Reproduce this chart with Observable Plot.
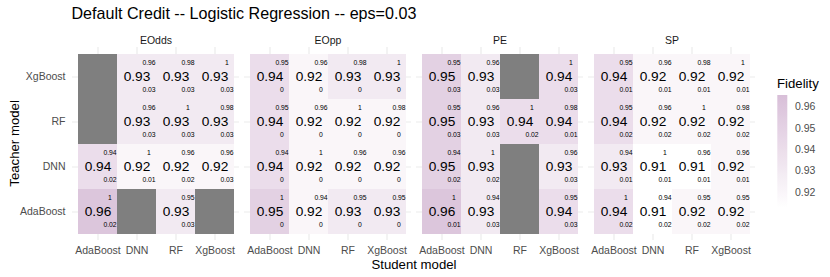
<!DOCTYPE html>
<html><head><meta charset="utf-8">
<script src="https://cdn.jsdelivr.net/npm/d3@7"></script>
<script src="https://cdn.jsdelivr.net/npm/@observablehq/plot@0.6"></script>
<style>
body{margin:0;background:#fff;}
#wrap{position:relative;width:830px;height:277px;font-family:"Liberation Sans",Arial,sans-serif;}
#wrap svg{position:absolute;left:0;top:0;}
</style></head><body><div id="wrap"></div>
<script>
const titleText = "Default Credit -- Logistic Regression -- eps=0.03";
const metrics = ["EOdds", "EOpp", "PE", "SP"];
const students = ["AdaBoost", "DNN", "RF", "XgBoost"];
const teachers = ["XgBoost", "RF", "DNN", "AdaBoost"]; // top to bottom
const legendTicks = [0.92, 0.93, 0.94, 0.95, 0.96];
const colorDomain = [0.9125, 0.9655];

// rows: teachers (top to bottom), columns: students
const fidelity = {
  EOdds: [[null, .93, .93, .93], [null, .93, .93, .93], [.94, .92, .92, .92], [.96, null, .93, null]],
  EOpp:  [[.94, .92, .93, .93], [.94, .92, .92, .92], [.94, .92, .92, .92], [.95, .92, .93, .93]],
  PE:    [[.95, .93, null, .94], [.95, .93, .94, .94], [.95, .93, null, .93], [.96, .93, null, .94]],
  SP:    [[.94, .92, .92, .92], [.94, .92, .92, .92], [.93, .91, .91, .92], [.94, .91, .92, .92]]
};
const topValue = {
  EOdds: [[null, .96, .98, 1], [null, .96, 1, .98], [.94, 1, .96, .96], [1, null, .95, null]],
  EOpp:  [[.95, .96, .98, 1], [.95, .96, 1, .98], [.94, 1, .96, .96], [1, .94, .95, .95]],
  PE:    [[.95, .96, null, 1], [.95, .96, 1, .98], [.94, 1, null, .96], [1, .94, null, .95]],
  SP:    [[.95, .96, .98, 1], [.95, .96, 1, .98], [.94, 1, .96, .96], [1, .94, .95, .95]]
};
const bottomValue = {
  EOdds: [[null, .03, .03, .03], [null, .03, .03, .03], [.02, .01, .02, .03], [.02, null, .03, null]],
  EOpp:  [[0, 0, 0, 0], [0, 0, 0, 0], [0, 0, 0, 0], [0, 0, 0, 0]],
  PE:    [[.03, .03, null, .03], [.03, .03, .02, .01], [.02, .02, null, .03], [.01, .03, null, .03]],
  SP:    [[.01, .01, .01, .01], [.02, .02, .02, .02], [.01, .01, .01, .01], [.02, .02, .02, .02]]
};

const rows = [];
for (const m of metrics) teachers.forEach((t, i) => students.forEach((s, j) => {
  rows.push({metric: m, teacher: t, student: s, fidelity: fidelity[m][i][j], top: topValue[m][i][j], bottom: bottomValue[m][i][j]});
}));
const valid = rows.filter(d => d.fidelity != null);
const missing = rows.filter(d => d.fidelity == null);

const font = '"Liberation Sans", Arial, sans-serif';
const pos = {x: "student", y: "teacher", fx: "metric"};

const chart = Plot.plot({
  width: 830, height: 277,
  marginLeft: 71, marginRight: 73, marginTop: 47, marginBottom: 37,
  style: {fontFamily: font, background: "transparent", overflow: "visible"},
  fx: {domain: metrics, paddingInner: 0.028, paddingOuter: 0, label: null},
  x: {domain: students, paddingInner: 0, paddingOuter: 0.1, label: null},
  y: {domain: teachers, paddingInner: 0, paddingOuter: 0.1, label: null},
  color: {type: "linear", domain: colorDomain, range: ["#ffffff", "#d8bfd8"], interpolate: "lab", clamp: true},
  marks: [
    Plot.gridX({stroke: "#ebebeb", strokeOpacity: 1, strokeWidth: 1.2}),
    Plot.gridY({stroke: "#ebebeb", strokeOpacity: 1, strokeWidth: 1.2}),
    Plot.cell(valid, {...pos, fill: "fidelity", shapeRendering: "crispEdges"}),
    Plot.cell(missing, {...pos, fill: "#7f7f7f", shapeRendering: "crispEdges"}),
    Plot.text(valid, {...pos, text: d => String(d.fidelity), fontSize: 13.7, fill: "#000"}),
    Plot.text(valid, {...pos, text: d => String(d.top), fontSize: 6.8, dx: 12, dy: -14, fill: "#000"}),
    Plot.text(valid, {...pos, text: d => String(d.bottom), fontSize: 6.8, dx: 12, dy: 13, fill: "#000"}),
    Plot.axisX({tickSize: 0, tickPadding: 6, fontSize: 10.5, color: "#4d4d4d", label: null}),
    Plot.axisY({tickSize: 0, tickPadding: 7, fontSize: 10.5, color: "#4d4d4d", label: null}),
    Plot.axisFx({anchor: "top", tickSize: 0, tickPadding: 4, fontSize: 10.5, color: "#1a1a1a", label: null})
  ]
});
const wrap = document.getElementById("wrap");
wrap.appendChild(chart);

// overlay: title, axis titles, legend
const color = chart.scale("color");
const svg = d3.select(wrap).append("svg").attr("width", 830).attr("height", 277)
  .style("font-family", font);
svg.append("text").attr("x", 71.5).attr("y", 18.5).attr("font-size", 16.1).attr("fill", "#000").text(titleText);
svg.append("text").attr("x", 414).attr("y", 269).attr("text-anchor", "middle").attr("font-size", 13.2).text("Student model");
svg.append("text").attr("transform", "translate(18.7,143.4) rotate(-90)").attr("text-anchor", "middle").attr("font-size", 13.2).text("Teacher model");

const ly = d3.scaleLinear().domain(color.domain).range([208, 95]);
const grad = svg.append("defs").append("linearGradient").attr("id", "lg").attr("x1", 0).attr("y1", 1).attr("x2", 0).attr("y2", 0);
d3.range(0, 1.0001, 0.05).forEach(t => {
  const v = color.domain[0] + t * (color.domain[1] - color.domain[0]);
  grad.append("stop").attr("offset", t).attr("stop-color", color.apply(v));
});
svg.append("rect").attr("x", 777.3).attr("y", ly(color.domain[1])).attr("width", 10)
  .attr("height", ly(color.domain[0]) - ly(color.domain[1])).attr("fill", "url(#lg)");
svg.append("text").attr("x", 777).attr("y", 87.5).attr("font-size", 13.2).text("Fidelity");
svg.selectAll(".lt").data(legendTicks).join("text")
  .attr("x", 795).attr("y", d => ly(d)).attr("dy", "0.35em").attr("font-size", 10.5).attr("fill", "#4d4d4d")
  .text(d => d.toFixed(2));
</script></body></html>
